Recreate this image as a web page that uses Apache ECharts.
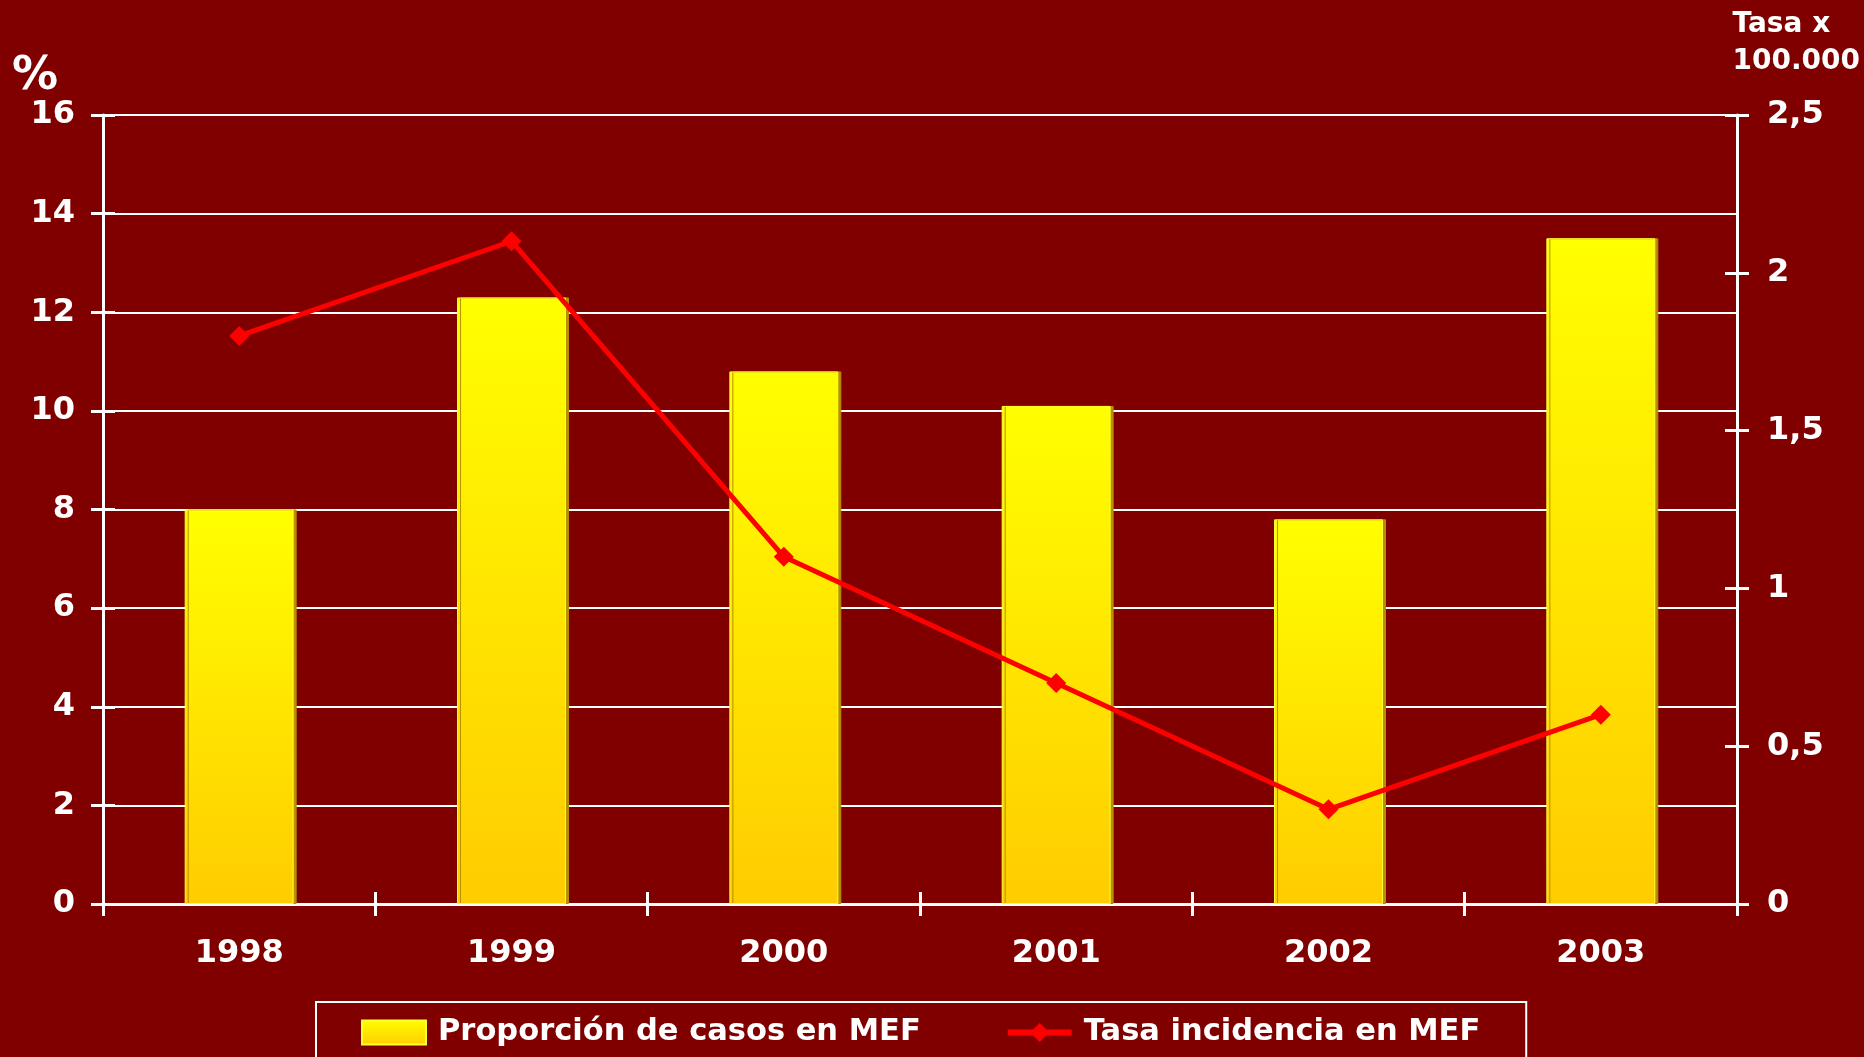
<!DOCTYPE html>
<html>
<head>
<meta charset="utf-8">
<script src="https://cdn.jsdelivr.net/npm/echarts@6/dist/echarts.min.js"></script>
<style>
html,body{margin:0;padding:0;background:#800000;}
#chart{width:1864px;height:1057px;}
</style>
</head>
<body>
<div id="chart"></div>
<script>
const years = ['1998','1999','2000','2001','2002','2003'];
const proporcion = [8.0, 12.3, 10.8, 10.1, 7.8, 13.5];
const tasa = [1.8, 2.1, 1.1, 0.7, 0.3, 0.6];
const seriesNames = ['Proporción de casos en MEF', 'Tasa incidencia en MEF'];

const FONT = '"DejaVu Sans", Verdana, sans-serif';
const shadowTxt = {textShadowColor:'#000', textShadowOffsetX:2, textShadowOffsetY:2, textShadowBlur:0};
const labelStyle = Object.assign({color:'#fff', fontFamily:FONT, fontWeight:'bold', fontSize:32}, shadowTxt);

const chart = echarts.init(document.getElementById('chart'));
const barGrad = new echarts.graphic.LinearGradient(0,0,0,1,[{offset:0,color:'#ffff00'},{offset:1,color:'#ffcc00'}]);

chart.setOption({
  backgroundColor:'#800000',
  animation:false,
  grid:{left:103, right:127, top:115, bottom:153},
  title:[
    {text:'%', left:12, top:54, padding:0,
     textStyle:Object.assign({}, labelStyle, {fontSize:46})},
    {text:'Tasa x\n100.000', right:4, top:6, padding:0,
     textStyle:Object.assign({}, labelStyle, {fontSize:28, lineHeight:37, align:'left'})}
  ],
  legend:{
    left:316, top:1002,
    padding:[15,46,40,45],
    borderColor:'#fff', borderWidth:2,
    itemGap:84, itemWidth:64, itemHeight:24,
    textStyle:Object.assign({}, labelStyle, {fontSize:30.5, padding:[0,0,0,7]}),
    data:[
      {name:seriesNames[0], icon:'rect'},
      {name:seriesNames[1], lineStyle:{width:6, color:'#ff0000'}, itemStyle:{color:'#ff0000'}}
    ]
  },
  xAxis:[
    {type:'category', data:years,
     axisLine:{lineStyle:{color:'#fff', width:3}},
     axisTick:{show:true, length:12, lineStyle:{color:'#fff', width:3}},
     axisLabel:Object.assign({}, labelStyle, {margin:34}),
     splitLine:{show:false}},
    {type:'category', data:years, position:'bottom',
     axisLine:{show:false},
     axisTick:{show:true, inside:true, length:12, lineStyle:{color:'#fff', width:3}},
     axisLabel:{show:false}, splitLine:{show:false}}
  ],
  yAxis:[
    {type:'value', min:0, max:16, interval:2, position:'left',
     axisLine:{show:true, lineStyle:{color:'#fff', width:3}},
     axisTick:{show:true, length:12, lineStyle:{color:'#fff', width:3}},
     axisLabel:Object.assign({}, labelStyle, {margin:28}),
     splitLine:{show:true, lineStyle:{color:'#fff', width:2}}},
    {type:'value', min:0, max:2.5, interval:0.5, position:'right',
     axisLine:{show:true, lineStyle:{color:'#fff', width:3}},
     axisTick:{show:true, length:12, lineStyle:{color:'#fff', width:3}},
     axisLabel:Object.assign({}, labelStyle, {margin:30, formatter:v=>String(v).replace('.',',')}),
     splitLine:{show:false}},
    {type:'value', min:0, max:16, interval:2, position:'left',
     axisLine:{show:false},
     axisTick:{show:true, inside:true, length:12, lineStyle:{color:'#fff', width:3}},
     axisLabel:{show:false}, splitLine:{show:false}},
    {type:'value', min:0, max:2.5, interval:0.5, position:'right',
     axisLine:{show:false},
     axisTick:{show:true, inside:true, length:12, lineStyle:{color:'#fff', width:3}},
     axisLabel:{show:false}, splitLine:{show:false}}
  ],
  series:[
    {name:seriesNames[0], type:'bar', data:proporcion, xAxisIndex:0, yAxisIndex:0,
     barWidth:'40%',
     itemStyle:{color:barGrad, borderColor:'#ffff33', borderWidth:1,
       shadowColor:'#b89000', shadowOffsetX:3, shadowOffsetY:0, shadowBlur:0}},
    {name:seriesNames[1], type:'line', data:tasa, xAxisIndex:0, yAxisIndex:1,
     symbol:'diamond', symbolSize:20, z:5,
     lineStyle:{color:'#ff0000', width:5},
     itemStyle:{color:'#ff0000'}}
  ]
});
</script>
</body>
</html>
